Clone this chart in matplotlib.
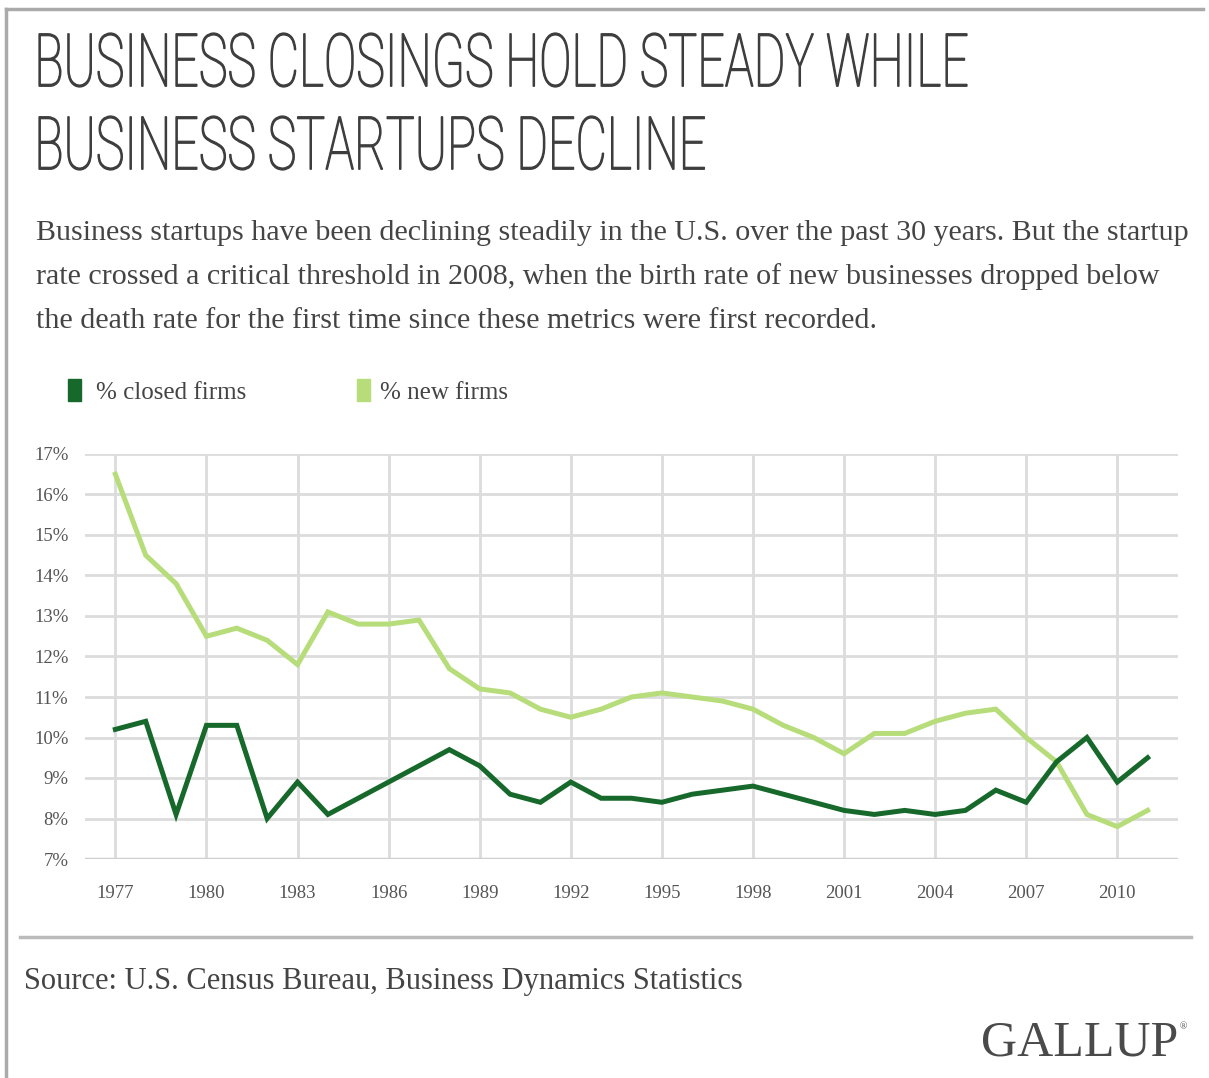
import matplotlib
matplotlib.use("Agg")
import matplotlib.pyplot as plt
from matplotlib.lines import Line2D
from matplotlib.textpath import TextPath
from matplotlib.patches import PathPatch
from matplotlib.font_manager import FontProperties
from matplotlib.transforms import Affine2D

W, H = 1209, 1078

years = list(range(1977, 2012))
closed_firms = [10.2, 10.4, 8.1, 10.3, 10.3, 8.0, 8.9, 8.1, 8.5, 8.9,
                9.3, 9.7, 9.3, 8.6, 8.4, 8.9, 8.5, 8.5, 8.4, 8.6,
                8.7, 8.8, 8.6, 8.4, 8.2, 8.1, 8.2, 8.1, 8.2, 8.7,
                8.4, 9.4, 10.0, 8.9, 9.5]
new_firms = [16.5, 14.5, 13.8, 12.5, 12.7, 12.4, 11.8, 13.1, 12.8, 12.8,
             12.9, 11.7, 11.2, 11.1, 10.7, 10.5, 10.7, 11.0, 11.1, 11.0,
             10.9, 10.7, 10.3, 10.0, 9.6, 10.1, 10.1, 10.4, 10.6, 10.7,
             10.0, 9.4, 8.1, 7.8, 8.2]
x_ticks = list(range(1977, 2011, 3))
y_ticks = list(range(7, 18))

title_lines = ["BUSINESS CLOSINGS HOLD STEADY WHILE", "BUSINESS STARTUPS DECLINE"]
subtitle = [
    "Business startups have been declining steadily in the U.S. over the past 30 years. But the startup",
    "rate crossed a critical threshold in 2008, when the birth rate of new businesses dropped below",
    "the death rate for the first time since these metrics were first recorded.",
]

dark_green = "#17692b"
light_green = "#b6dd7a"
grid_gray = "#dcdcdc"
text_gray = "#444444"

serif = ["Liberation Serif", "DejaVu Serif"]


def fx(px):
    return px / W


def fy(py):
    return 1 - py / H


fig = plt.figure(figsize=(W / 100, H / 100), dpi=100)

# outer frame (left + top)
fig.add_artist(Line2D([fx(6), fx(6)], [0, fy(9)], color="#aaaaaa", lw=2.5))
fig.add_artist(Line2D([fx(6), fx(1203)], [fy(9), fy(9)], color="#aaaaaa", lw=2.5))

# title: thin condensed caps, squeezed from a regular font
tprop = FontProperties(family=["Roboto", "DejaVu Sans"], weight="light")
paths = [TextPath((0, 0), s, size=100, prop=tprop) for s in title_lines]
ext0 = paths[0].get_extents()
sx = (967 - 39) / ext0.width
sy = (87 - 33) / ext0.height
for p, base in zip(paths, [87, 170]):
    ext = p.get_extents()
    tr = (Affine2D().translate(-ext0.x0, -ext.y0).scale(sx / W, sy / H)
          .translate(fx(39), fy(base)) + fig.transFigure)
    fig.add_artist(PathPatch(p, transform=tr, facecolor="#3d3d3d",
                             edgecolor="#3d3d3d", lw=0.9))

for i, line in enumerate(subtitle):
    fig.text(fx(36), fy(240 + i * 44), line, family=serif, fontsize=21.6,
             color=text_gray, va="baseline", ha="left")

# legend
fig.patches.append(plt.Rectangle((fx(68), fy(401)), fx(13), 22 / H,
                                 transform=fig.transFigure, color=dark_green))
fig.text(fx(96), fy(399), "% closed firms", family=serif, fontsize=18,
         color=text_gray, va="baseline")
fig.patches.append(plt.Rectangle((fx(357), fy(401)), fx(13), 22 / H,
                                 transform=fig.transFigure, color=light_green))
fig.text(fx(380), fy(399), "% new firms", family=serif, fontsize=18,
         color=text_gray, va="baseline")

ax = fig.add_axes([fx(85), fy(859), fx(1178 - 85), (859 - 454) / H])
ax.plot(years, new_firms, color=light_green, lw=3.6, solid_joinstyle="miter", zorder=3)
ax.plot(years, closed_firms, color=dark_green, lw=3.6, solid_joinstyle="miter", zorder=4)

ax.set_xlim(1976, 2012)
ax.set_ylim(7, 17)
ax.set_xticks(x_ticks)
ax.set_yticks(y_ticks)
ax.set_yticklabels([f"{v}%" for v in y_ticks])
ax.tick_params(length=0, labelsize=13.5, labelcolor="#555555")
ax.tick_params(axis="x", pad=19)
ax.tick_params(axis="y", pad=12)
for lab in ax.get_xticklabels() + ax.get_yticklabels():
    lab.set_family(serif)
ax.grid(True, color=grid_gray, lw=2)
ax.set_axisbelow(True)
for s in ax.spines.values():
    s.set_visible(False)
ax.axhline(7, color="#cfcfcf", lw=2.5, zorder=1)

# footer
fig.add_artist(Line2D([fx(20), fx(1191)], [fy(937), fy(937)], color="#bbbbbb", lw=2.5))
fig.text(fx(24), fy(989), "Source: U.S. Census Bureau, Business Dynamics Statistics",
         family=serif, fontsize=22, color=text_gray, va="baseline")
fig.text(fx(1178), fy(1055), "GALLUP", family=serif, fontsize=36,
         color="#4a4a4a", va="baseline", ha="right")
fig.text(fx(1180), fy(1022), "\u00ae", family=serif, fontsize=7,
         color="#4a4a4a", va="top", ha="left")

fig.savefig("out.png", dpi=100, facecolor="white")
